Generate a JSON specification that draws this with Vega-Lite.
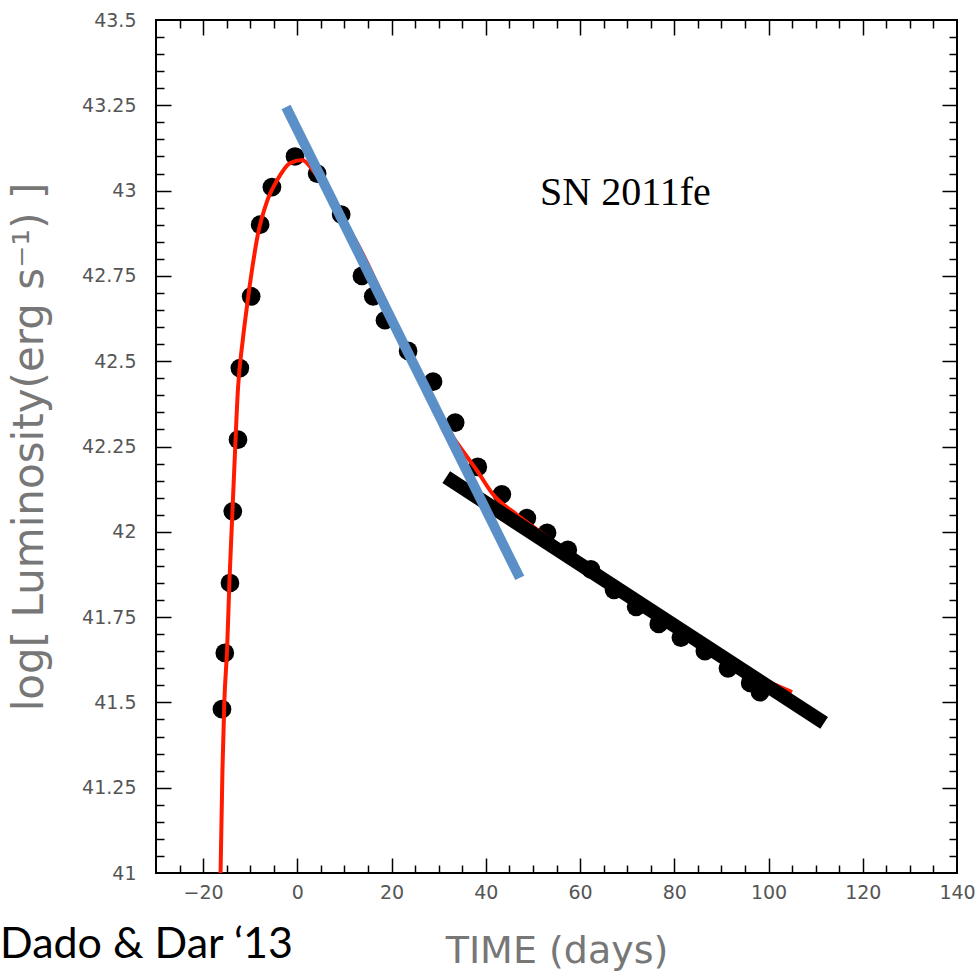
{
  "$schema": "https://vega.github.io/schema/vega-lite/v6.json",
  "width": 801,
  "height": 853,
  "autosize": "none",
  "padding": {"left": 156, "top": 20, "right": 22, "bottom": 103},
  "background": "white",
  "config": {
    "view": {"stroke": "black", "strokeWidth": 2},
    "axis": {"grid": false, "domain": false, "tickColor": "black", "tickWidth": 1.5, "labelOverlap": false, "labelFlush": false}
  },
  "title": {
    "text": "Dado & Dar ‘13",
    "orient": "bottom",
    "anchor": "start",
    "frame": "group",
    "dx": -156,
    "dy": -50,
    "font": "Lato",
    "fontSize": 43,
    "fontWeight": "normal",
    "color": "black",
    "baseline": "top"
  },
  "datasets": {
    "obs": [
      {"t": -16.0, "L": 41.48}, {"t": -15.4, "L": 41.645}, {"t": -14.3, "L": 41.85}, {"t": -13.7, "L": 42.06},
      {"t": -12.6, "L": 42.27}, {"t": -12.2, "L": 42.48}, {"t": -9.8, "L": 42.69}, {"t": -7.9, "L": 42.9},
      {"t": -5.4, "L": 43.01}, {"t": -0.5, "L": 43.1}, {"t": 4.2, "L": 43.05}, {"t": 9.3, "L": 42.93},
      {"t": 13.7, "L": 42.75}, {"t": 16.1, "L": 42.69}, {"t": 18.6, "L": 42.62}, {"t": 23.5, "L": 42.53},
      {"t": 28.8, "L": 42.44}, {"t": 33.5, "L": 42.32}, {"t": 38.3, "L": 42.19}, {"t": 43.4, "L": 42.11},
      {"t": 48.7, "L": 42.04}, {"t": 53.0, "L": 41.997}, {"t": 57.4, "L": 41.947}, {"t": 62.3, "L": 41.89},
      {"t": 67.2, "L": 41.83}, {"t": 71.9, "L": 41.78}, {"t": 76.7, "L": 41.73}, {"t": 81.4, "L": 41.69},
      {"t": 86.5, "L": 41.65}, {"t": 91.4, "L": 41.6}, {"t": 96.1, "L": 41.557}, {"t": 98.2, "L": 41.53}
    ],
    "fit": [
      {"t": -16.3, "L": 41.0}, {"t": -15.9, "L": 41.3}, {"t": -15.5, "L": 41.5}, {"t": -14.9, "L": 41.66},
      {"t": -14.4, "L": 41.86}, {"t": -13.9, "L": 42.02}, {"t": -13.4, "L": 42.18}, {"t": -12.6, "L": 42.42},
      {"t": -11.6, "L": 42.56}, {"t": -10.7, "L": 42.66}, {"t": -9.6, "L": 42.77}, {"t": -8.4, "L": 42.87},
      {"t": -6.4, "L": 42.97}, {"t": -4.3, "L": 43.03}, {"t": -1.6, "L": 43.08}, {"t": 1.0, "L": 43.09},
      {"t": 3.3, "L": 43.06}, {"t": 6.3, "L": 43.0}, {"t": 9.0, "L": 42.935}, {"t": 13.3, "L": 42.83},
      {"t": 17.5, "L": 42.71}, {"t": 22, "L": 42.58}, {"t": 27, "L": 42.43}, {"t": 32, "L": 42.3},
      {"t": 36, "L": 42.22}, {"t": 38.1, "L": 42.18}, {"t": 41.5, "L": 42.11}, {"t": 46.6, "L": 42.05},
      {"t": 50, "L": 42.015}, {"t": 55, "L": 41.965}, {"t": 60, "L": 41.91}, {"t": 65, "L": 41.865},
      {"t": 70, "L": 41.815}, {"t": 75, "L": 41.77}, {"t": 80, "L": 41.72}, {"t": 85, "L": 41.68},
      {"t": 90, "L": 41.635}, {"t": 95, "L": 41.595}, {"t": 100, "L": 41.56}, {"t": 105, "L": 41.53}
    ],
    "early": [{"t": -2.4, "L": 43.245}, {"t": 47.2, "L": 41.865}],
    "late": [{"t": 31.6, "L": 42.16}, {"t": 111.8, "L": 41.44}],
    "label": [{"t": 51.5, "L": 42.993, "name": "SN 2011fe"}]
  },
  "resolve": {"axis": {"x": "independent", "y": "independent"}},
  "layer": [
    {
      "data": {"name": "obs"},
      "mark": {"type": "point", "filled": true, "color": "black", "opacity": 1, "size": 350},
      "encoding": {
        "x": {
          "field": "t", "type": "quantitative",
          "scale": {"domain": [-30, 140], "nice": false, "zero": false},
          "axis": {
            "orient": "bottom", "values": [-20, 0, 20, 40, 60, 80, 100, 120, 140],
            "labelExpr": "replace(toString(datum.value), '-', '−')",
            "ticks": false, "labelFont": "DejaVu Sans", "labelFontSize": 19, "labelColor": "#555",
            "labelPadding": 10, "title": "TIME (days)", "titleFont": "DejaVu Sans", "titleFontSize": 38,
            "titleFontWeight": "normal", "titleColor": "#777", "titlePadding": 30
          }
        },
        "y": {
          "field": "L", "type": "quantitative",
          "scale": {"domain": [41, 43.5], "nice": false, "zero": false},
          "axis": {
            "orient": "left", "values": [41, 41.25, 41.5, 41.75, 42, 42.25, 42.5, 42.75, 43, 43.25, 43.5],
            "labelExpr": "toString(datum.value)",
            "ticks": false, "labelFont": "DejaVu Sans", "labelFontSize": 19, "labelColor": "#555",
            "labelPadding": 20, "title": "log[ Luminosity(erg s⁻¹) ]", "titleFont": "DejaVu Sans", "titleFontSize": 42,
            "titleFontWeight": "normal", "titleColor": "#777", "titlePadding": 30
          }
        }
      }
    },
    {
      "data": {"name": "fit"},
      "mark": {"type": "line", "color": "#ff1a00", "strokeWidth": 4, "interpolate": "monotone"},
      "encoding": {
        "x": {
          "field": "t", "type": "quantitative",
          "scale": {"domain": [-30, 140], "nice": false, "zero": false},
          "axis": {"orient": "bottom", "values": [-20, 0, 20, 40, 60, 80, 100, 120], "labels": false, "title": null, "tickSize": 15, "offset": -15}
        },
        "y": {
          "field": "L", "type": "quantitative",
          "scale": {"domain": [41, 43.5], "nice": false, "zero": false},
          "axis": {"orient": "left", "values": [41.25, 41.5, 41.75, 42, 42.25, 42.5, 42.75, 43, 43.25], "labels": false, "title": null, "tickSize": 15, "offset": -15}
        }
      }
    },
    {
      "data": {"name": "late"},
      "mark": {"type": "line", "color": "black", "strokeWidth": 14, "strokeCap": "butt"},
      "encoding": {
        "x": {
          "field": "t", "type": "quantitative",
          "scale": {"domain": [-30, 140], "nice": false, "zero": false},
          "axis": {"orient": "bottom", "values": [-25, -15, -10, -5, 5, 10, 15, 25, 30, 35, 45, 50, 55, 65, 70, 75, 85, 90, 95, 105, 110, 115, 125, 130, 135], "labels": false, "title": null, "tickSize": 8, "offset": -8}
        },
        "y": {
          "field": "L", "type": "quantitative",
          "scale": {"domain": [41, 43.5], "nice": false, "zero": false},
          "axis": {"orient": "left", "values": [41.05, 41.1, 41.15, 41.2, 41.3, 41.35, 41.4, 41.45, 41.55, 41.6, 41.65, 41.7, 41.8, 41.85, 41.9, 41.95, 42.05, 42.1, 42.15, 42.2, 42.3, 42.35, 42.4, 42.45, 42.55, 42.6, 42.65, 42.7, 42.8, 42.85, 42.9, 42.95, 43.05, 43.1, 43.15, 43.2, 43.3, 43.35, 43.4, 43.45], "labels": false, "title": null, "tickSize": 8, "offset": -8}
        }
      }
    },
    {
      "data": {"name": "early"},
      "mark": {"type": "line", "color": "#5b8fc7", "strokeWidth": 10, "strokeCap": "butt"},
      "encoding": {
        "x": {
          "field": "t", "type": "quantitative",
          "scale": {"domain": [-30, 140], "nice": false, "zero": false},
          "axis": {"orient": "top", "values": [-20, 0, 20, 40, 60, 80, 100, 120], "labels": false, "title": null, "tickSize": 15, "offset": -15}
        },
        "y": {
          "field": "L", "type": "quantitative",
          "scale": {"domain": [41, 43.5], "nice": false, "zero": false},
          "axis": {"orient": "right", "values": [41.25, 41.5, 41.75, 42, 42.25, 42.5, 42.75, 43, 43.25], "labels": false, "title": null, "tickSize": 15, "offset": -15}
        }
      }
    },
    {
      "data": {"name": "label"},
      "mark": {"type": "text", "font": "Liberation Serif", "fontSize": 40, "color": "black", "align": "left", "baseline": "middle"},
      "encoding": {
        "text": {"field": "name"},
        "x": {
          "field": "t", "type": "quantitative",
          "scale": {"domain": [-30, 140], "nice": false, "zero": false},
          "axis": {"orient": "top", "values": [-25, -15, -10, -5, 5, 10, 15, 25, 30, 35, 45, 50, 55, 65, 70, 75, 85, 90, 95, 105, 110, 115, 125, 130, 135], "labels": false, "title": null, "tickSize": 8, "offset": -8}
        },
        "y": {
          "field": "L", "type": "quantitative",
          "scale": {"domain": [41, 43.5], "nice": false, "zero": false},
          "axis": {"orient": "right", "values": [41.05, 41.1, 41.15, 41.2, 41.3, 41.35, 41.4, 41.45, 41.55, 41.6, 41.65, 41.7, 41.8, 41.85, 41.9, 41.95, 42.05, 42.1, 42.15, 42.2, 42.3, 42.35, 42.4, 42.45, 42.55, 42.6, 42.65, 42.7, 42.8, 42.85, 42.9, 42.95, 43.05, 43.1, 43.15, 43.2, 43.3, 43.35, 43.4, 43.45], "labels": false, "title": null, "tickSize": 8, "offset": -8}
        }
      }
    }
  ]
}
